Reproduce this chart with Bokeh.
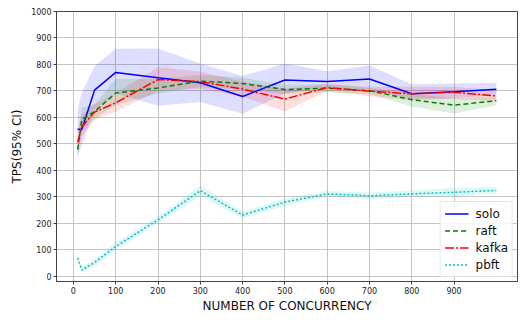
from bokeh.plotting import figure
from bokeh.models import Range1d, FixedTicker, Legend, LegendItem
from bokeh.embed import file_html
from bokeh.resources import INLINE

# ---- data ----
concurrency = [10, 20, 50, 100, 200, 300, 400, 500, 600, 700, 800, 900, 1000]

solo = [555, 555, 703, 770, 750, 731, 679, 741, 736, 745, 689, 697, 706]
solo_lo = [450, 495, 630, 690, 644, 658, 614, 690, 713, 705, 670, 672, 685]
solo_hi = [632, 695, 793, 859, 860, 804, 756, 804, 774, 796, 725, 728, 731]

raft = [478, 592, 622, 692, 711, 737, 728, 705, 710, 701, 667, 646, 663]
raft_lo = [440, 550, 595, 648, 690, 715, 705, 688, 695, 688, 640, 615, 645]
raft_hi = [520, 635, 650, 745, 745, 760, 750, 722, 725, 712, 690, 672, 680]

kafka = [505, 565, 620, 655, 743, 735, 707, 669, 713, 699, 689, 695, 681]
kafka_lo = [460, 530, 590, 622, 700, 708, 678, 622, 700, 680, 665, 670, 660]
kafka_hi = [550, 610, 650, 690, 790, 772, 736, 708, 726, 716, 716, 716, 702]

pbft = [69, 23, 52, 112, 213, 323, 231, 280, 311, 304, 311, 317, 324]
pbft_lo = [55, 15, 40, 98, 200, 303, 218, 266, 300, 292, 298, 300, 312]
pbft_hi = [80, 33, 64, 126, 226, 343, 244, 294, 322, 316, 324, 334, 336]

series_names = ["solo", "raft", "kafka", "pbft"]
x_ticks = [0, 100, 200, 300, 400, 500, 600, 700, 800, 900]
y_ticks = [0, 100, 200, 300, 400, 500, 600, 700, 800, 900, 1000]

FONT = "DejaVu Sans"

p = figure(width=518, height=315, output_backend="svg", toolbar_location=None,
           x_range=Range1d(-40, 1050), y_range=Range1d(-20, 1000),
           min_border_left=56, min_border_right=1, min_border_top=11, min_border_bottom=28)

p.background_fill_color = "white"
p.border_fill_color = "white"
p.outline_line_color = "#444444"
p.outline_line_width = 1

for ax in (p.xaxis[0], p.yaxis[0]):
    ax.major_label_text_font = FONT
    ax.major_label_text_font_size = "8px"
    ax.major_label_text_color = "#222222"
    ax.axis_label_text_font = FONT
    ax.axis_label_text_font_size = "12px"
    ax.axis_label_text_font_style = "normal"
    ax.axis_label_text_color = "#111111"
    ax.axis_line_color = "#444444"
    ax.major_tick_line_color = "#444444"
    ax.major_tick_out = 3
    ax.major_tick_in = 0
    ax.minor_tick_line_color = None
    ax.major_label_standoff = 2
    ax.axis_label_standoff = 2

p.xaxis.ticker = FixedTicker(ticks=x_ticks)
p.yaxis.ticker = FixedTicker(ticks=y_ticks)
p.xaxis.axis_label = "NUMBER OF CONCURRENCY"
p.yaxis.axis_label = "TPS(95% CI)"
p.yaxis.axis_label_standoff = 4

p.xgrid.ticker = FixedTicker(ticks=x_ticks)
p.ygrid.ticker = FixedTicker(ticks=y_ticks)
p.grid.grid_line_color = "#c4c4c4"
p.grid.grid_line_width = 1

colors = ["blue", "green", "red", "#00BFBF"]
dashes = ["solid", "5 3", "9 2 2 2", "2 2"]
values = [solo, raft, kafka, pbft]
lows = [solo_lo, raft_lo, kafka_lo, pbft_lo]
highs = [solo_hi, raft_hi, kafka_hi, pbft_hi]

for c, lo, hi in zip(colors, lows, highs):
    p.varea(x=concurrency, y1=lo, y2=hi, fill_color=c, fill_alpha=0.13)

items = []
for name, c, d, v in zip(series_names, colors, dashes, values):
    r = p.line(concurrency, v, line_color=c, line_width=1.5, line_dash=d)
    items.append(LegendItem(label=name, renderers=[r]))

legend = Legend(items=items, location="bottom_right")
legend.label_text_font = FONT
legend.label_text_font_size = "12px"
legend.label_text_color = "#111111"
legend.border_line_color = "#cccccc"
legend.border_line_width = 1
legend.background_fill_alpha = 0.85
legend.padding = 4
legend.spacing = 2
legend.glyph_width = 24
legend.glyph_height = 15
legend.label_height = 15
legend.label_standoff = 7
legend.margin = 4
p.add_layout(legend, "center")

open("out.html", "w").write(file_html(p, INLINE))
